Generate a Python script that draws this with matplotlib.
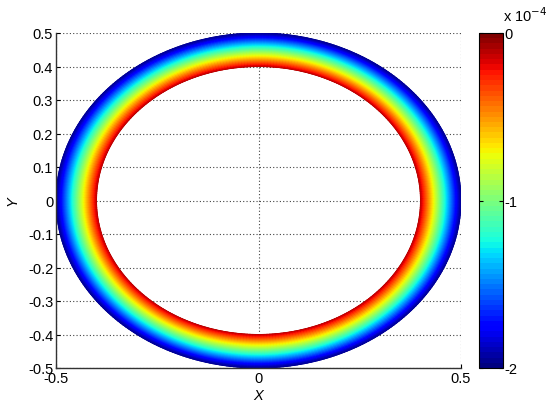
import numpy as np
import matplotlib
matplotlib.use("Agg")
import matplotlib.pyplot as plt

plt.rcParams['font.family'] = ['Liberation Sans', 'DejaVu Sans']

# data
r_inner = 0.4
r_outer = 0.5
val_inner = -0.12e-4
val_outer = -1.95e-4
cbar_min = -2e-4
cbar_max = 0.0
xticks = [-0.5, 0, 0.5]
xticklabels = ['-0.5', '0', '0.5']
yticks = [-0.5, -0.4, -0.3, -0.2, -0.1, 0, 0.1, 0.2, 0.3, 0.4, 0.5]
yticklabels = ['-0.5', '-0.4', '-0.3', '-0.2', '-0.1', '0', '0.1', '0.2', '0.3', '0.4', '0.5']
cbar_ticks = [-2e-4, -1e-4, 0]
cbar_labels = ['-2', '-1', '0']

r = np.linspace(r_inner, r_outer, 60)
th = np.linspace(0, 2 * np.pi, 361)
R, TH = np.meshgrid(r, th)
X = R * np.cos(TH)
Y = R * np.sin(TH)
Z = val_inner + (val_outer - val_inner) * (R - r_inner) / (r_outer - r_inner)

cmap = plt.get_cmap('jet', 64)

fig = plt.figure(figsize=(5.5, 4.14), dpi=100)
ax = fig.add_axes([56/550, 1 - 369/414, 405/550, 335/414])
cax = fig.add_axes([479/550, 1 - 369/414, 24/550, 335/414])

m = ax.pcolormesh(X, Y, Z, cmap=cmap, vmin=cbar_min, vmax=cbar_max, shading='gouraud')
ax.set_xlim(-0.5, 0.5)
ax.set_ylim(-0.5, 0.5)
ax.set_xticks(xticks)
ax.set_xticklabels(xticklabels)
ax.set_yticks(yticks)
ax.set_yticklabels(yticklabels)
ax.grid(True, linestyle=(0, (1, 2)), color='#444444', linewidth=0.8)
ax.set_axisbelow(True)
for s in ['top', 'right']:
    ax.spines[s].set_visible(False)
for s in ['left', 'bottom']:
    ax.spines[s].set_color('#333333')
    ax.spines[s].set_linewidth(1.0)
ax.tick_params(direction='in', length=3, labelsize=10.5, pad=2)
ax.set_xlabel('X', fontstyle='italic', fontsize=10.5, labelpad=2)
ax.set_ylabel('Y', fontstyle='italic', fontsize=10.5, labelpad=6)

cb = fig.colorbar(m, cax=cax)
cb.set_ticks(cbar_ticks)
cb.set_ticklabels(cbar_labels)
cb.ax.tick_params(direction='in', length=3, labelsize=10.5, pad=1, left=True, right=True)
cb.outline.set_linewidth(0.8)
fig.text(503/550, 1 - 22/414, 'x 10$^{-4}$', fontsize=10.5, va='baseline', ha='left')

fig.savefig('out.png', dpi=100)
